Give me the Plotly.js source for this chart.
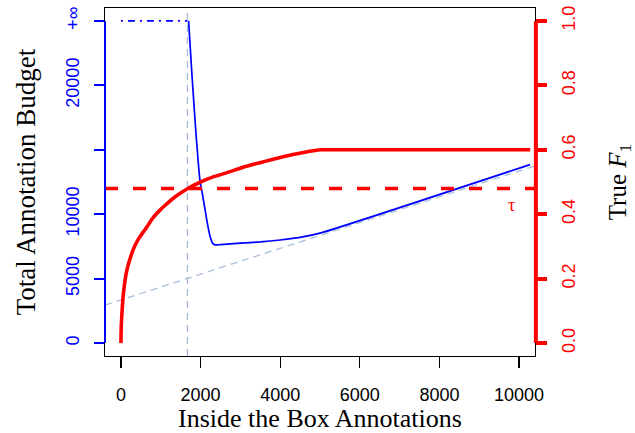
<!DOCTYPE html>
<html>
<head>
<meta charset="utf-8">
<script src="https://cdn.plot.ly/plotly-3.0.1.min.js"></script>
<style>
html,body{margin:0;padding:0;background:#fff;}
#chart{width:635px;height:433px;}
</style>
</head>
<body>
<div id="chart"></div>
<script>
// ---- data ----
// Total annotation budget (left axis) vs inside-the-box annotations
const budgetX = [1700, 1780, 1877, 1985, 2027, 2100, 2153, 2236, 2303, 2362, 2500, 3000, 3500, 4000, 4500, 5000, 10276];
const budgetY = [25000, 21000, 16600, 12600, 11900, 10600, 9600, 8320, 7750, 7620, 7640, 7750, 7850, 8000, 8200, 8530, 13850];
// infinite-budget region (drawn at the "+inf" level)
const infX = [0, 1670];
const infY = [25000, 25000];
// reference line (light steel blue, dashed)
const refX = [-400, 10400];
const refY = [2950, 13750];
// vertical marker
const vX = [1670, 1670];
const vY = [-1000, 26000];
// True F1 (right axis): rising part, then plateau
const f1X = [0, 3, 8, 17, 28, 40, 56, 75, 100, 126, 160, 200, 250, 300, 370, 450, 550, 650, 800, 1000, 1150, 1300, 1480, 1670, 2000, 2300, 2663, 3050, 3492, 3900, 4322, 4650, 5000];
const f1Y = [0, 0.025, 0.05, 0.074, 0.098, 0.12, 0.145, 0.167, 0.192, 0.212, 0.232, 0.25, 0.27, 0.288, 0.307, 0.325, 0.343, 0.36, 0.388, 0.415, 0.432, 0.448, 0.464, 0.479, 0.5, 0.515, 0.529, 0.545, 0.56, 0.573, 0.585, 0.593, 0.6];
const plateauX = [5000, 10280];
const plateauY = [0.6, 0.6];
// threshold tau
const tau = 0.48;
const tauX = [-400, 10400];
const tauLabel = {x: 9800, y: 0.43, text: "τ"};
// ticks
const xTicks = [0, 2000, 4000, 6000, 8000, 10000];
const yTicks = [0, 5000, 10000, 20000, 25000];
const yTickText = ["0", "5000", "10000", "20000", "+∞"];
const yMinorTicks = [15000];
const y2Ticks = [0, 0.2, 0.4, 0.6, 0.8, 1.0];
const y2TickText = ["0.0", "0.2", "0.4", "0.6", "0.8", "1.0"];

const BLUE = "#0000FF", RED = "#FF0000", LSB = "#A9BEDC";
const SANS = "Liberation Sans, Arial, sans-serif";
const SERIF = "Liberation Serif, Times New Roman, serif";

const traces = [
  {x: refX, y: refY, mode: "lines", line: {color: LSB, width: 1.3, dash: "7px,5px"}, hoverinfo: "skip"},
  {x: vX, y: vY, mode: "lines", line: {color: LSB, width: 1.3, dash: "7px,5px"}, hoverinfo: "skip"},
  {x: infX, y: infY, mode: "lines", line: {color: BLUE, width: 1.7, dash: "2px,5px,7px,5px"}},
  {x: budgetX, y: budgetY, mode: "lines", line: {color: BLUE, width: 1.7, shape: "spline", smoothing: 0.5}},
  {x: tauX, y: [tau, tau], yaxis: "y2", mode: "lines", line: {color: RED, width: 3.6, dash: "13px,15px"}},
  {x: f1X, y: f1Y, yaxis: "y2", mode: "lines", line: {color: RED, width: 3.6, shape: "spline", smoothing: 0.8}},
  {x: plateauX, y: plateauY, yaxis: "y2", mode: "lines", line: {color: RED, width: 3.6}}
];

const layout = {
  width: 635, height: 433,
  margin: {l: 105, r: 100, t: 8, b: 77},
  paper_bgcolor: "#fff", plot_bgcolor: "#fff",
  showlegend: false,
  xaxis: {
    range: [-400, 10400], tickvals: xTicks, ticktext: xTicks.map(String),
    showgrid: false, zeroline: false,
    showline: true, linecolor: "#000", linewidth: 1.3, mirror: true,
    ticks: "outside", ticklen: 11, tickwidth: 1.3, tickcolor: "#000",
    tickfont: {family: SANS, size: 18, color: "#000"},
    ticklabelstandoff: 11,
    title: {text: "Inside the Box Annotations", font: {family: SERIF, size: 26, color: "#000"}, standoff: 6},
    automargin: false
  },
  yaxis: {
    range: [-1000, 26000], tickvals: yTicks, ticktext: yTickText,
    showgrid: false, zeroline: false,
    showline: true, linecolor: "#000", linewidth: 1.3, mirror: true,
    ticks: "outside", ticklen: 10, tickwidth: 2, tickcolor: BLUE,
    minor: {tickmode: "array", tickvals: yMinorTicks, ticks: "outside", ticklen: 10, tickwidth: 2, tickcolor: BLUE, showgrid: false},
    tickangle: -90,
    ticklabelstandoff: 8,
    tickfont: {family: SANS, size: 18, color: BLUE},
    title: {text: "Total Annotation Budget", font: {family: SERIF, size: 27, color: "#000"}, standoff: 19},
    automargin: false
  },
  yaxis2: {
    range: [-0.04, 1.04], tickvals: y2Ticks, ticktext: y2TickText,
    overlaying: "y", side: "right",
    showgrid: false, zeroline: false, showline: false,
    ticks: "outside", ticklen: 11, tickwidth: 4, tickcolor: RED,
    tickangle: -90,
    ticklabelstandoff: 6,
    tickfont: {family: SANS, size: 18, color: RED},
    title: {text: "True <i>F</i><sub>1</sub>", font: {family: SERIF, size: 25, color: "#000"}, standoff: 31},
    automargin: false
  },
  shapes: [
    {type: "line", xref: "paper", yref: "y", x0: 0, x1: 0, y0: yTicks[0], y1: yTicks[yTicks.length - 1], line: {color: BLUE, width: 2}, layer: "above"},
    {type: "line", xref: "paper", yref: "y2", x0: 1.002, x1: 1.002, y0: y2Ticks[0], y1: y2Ticks[y2Ticks.length - 1], line: {color: RED, width: 4}, layer: "above"}
  ],
  annotations: [
    {x: tauLabel.x, y: tauLabel.y, xref: "x", yref: "y2", text: tauLabel.text, showarrow: false,
     font: {family: SERIF, size: 18, color: RED}}
  ]
};

Plotly.newPlot("chart", traces, layout, {staticPlot: true, displayModeBar: false});
</script>
</body>
</html>
